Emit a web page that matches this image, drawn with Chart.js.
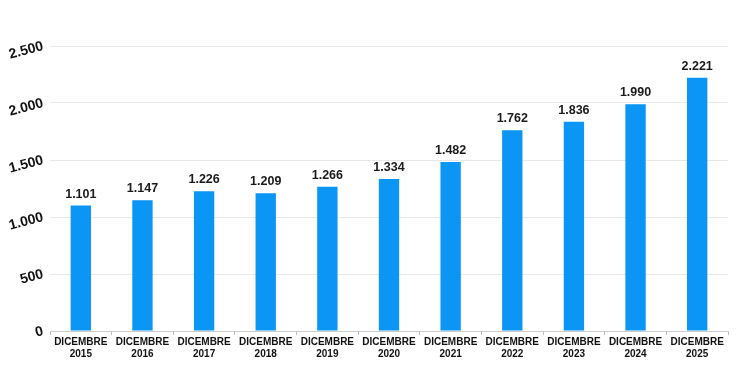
<!DOCTYPE html>
<html><head><meta charset="utf-8">
<script src="https://cdn.jsdelivr.net/npm/chart.js@4/dist/chart.umd.min.js"></script>
<style>html,body{margin:0;padding:0;background:#fff}#wrap{width:737px;height:368px}</style>
</head><body><div id="wrap"><canvas id="c" width="737" height="368"></canvas></div>
<script>
const categories = [["DICEMBRE","2015"],["DICEMBRE","2016"],["DICEMBRE","2017"],["DICEMBRE","2018"],["DICEMBRE","2019"],["DICEMBRE","2020"],["DICEMBRE","2021"],["DICEMBRE","2022"],["DICEMBRE","2023"],["DICEMBRE","2024"],["DICEMBRE","2025"]];
const values = [1101, 1147, 1226, 1209, 1266, 1334, 1482, 1762, 1836, 1990, 2221];
const yTicks = [0, 500, 1000, 1500, 2000, 2500];

function it(v){ return String(v).replace(/\B(?=(\d{3})+(?!\d))/g,'.'); }
const FONT = '"Liberation Sans", Arial, sans-serif';

const labelPlugin = {
  id:'vals',
  afterDatasetsDraw(chart){
    const ctx = chart.ctx;
    const meta = chart.getDatasetMeta(0);
    ctx.save();
    ctx.font = 'bold 12.5px ' + FONT;
    ctx.fillStyle = '#1a1a1a';
    ctx.textAlign = 'center';
    ctx.textBaseline = 'bottom';
    meta.data.forEach((bar,i)=>{
      ctx.fillText(it(values[i]), bar.x, bar.y - 5);
    });
    ctx.restore();
  }
};

new Chart(document.getElementById('c'), {
  type:'bar',
  data:{ labels: categories, datasets:[{ data: values, backgroundColor:'#0b95f5', barPercentage:0.33, categoryPercentage:1 }]},
  plugins:[labelPlugin],
  options:{
    responsive:false, animation:false,
    layout:{ padding:{ left:0, right:9, top:46, bottom:0 } },
    plugins:{ legend:{display:false}, tooltip:{enabled:false} },
    scales:{
      x:{
        afterFit(s){ s.height = 37; },
        grid:{ display:true, offset:true, drawOnChartArea:false, drawTicks:true, tickLength:4, color:'#bbbbbb' },
        border:{ display:true, color:'#cccccc' },
        ticks:{ color:'#111', font:{ family:FONT, size:10, weight:'bold' }, padding:1, maxRotation:0, autoSkip:false }
      },
      y:{
        min:0, max:2500,
        afterFit(s){ s.width = 50; },
        afterBuildTicks(s){ s.ticks = yTicks.map(v=>({value:v})); },
        grid:{ color:'#e8e8e8', drawTicks:false },
        border:{ display:false },
        ticks:{ color:'#111', font:{ family:FONT, size:14, weight:'bold' }, padding:7, minRotation:15, maxRotation:15, callback:v=>it(v) }
      }
    }
  }
});
</script></body></html>
